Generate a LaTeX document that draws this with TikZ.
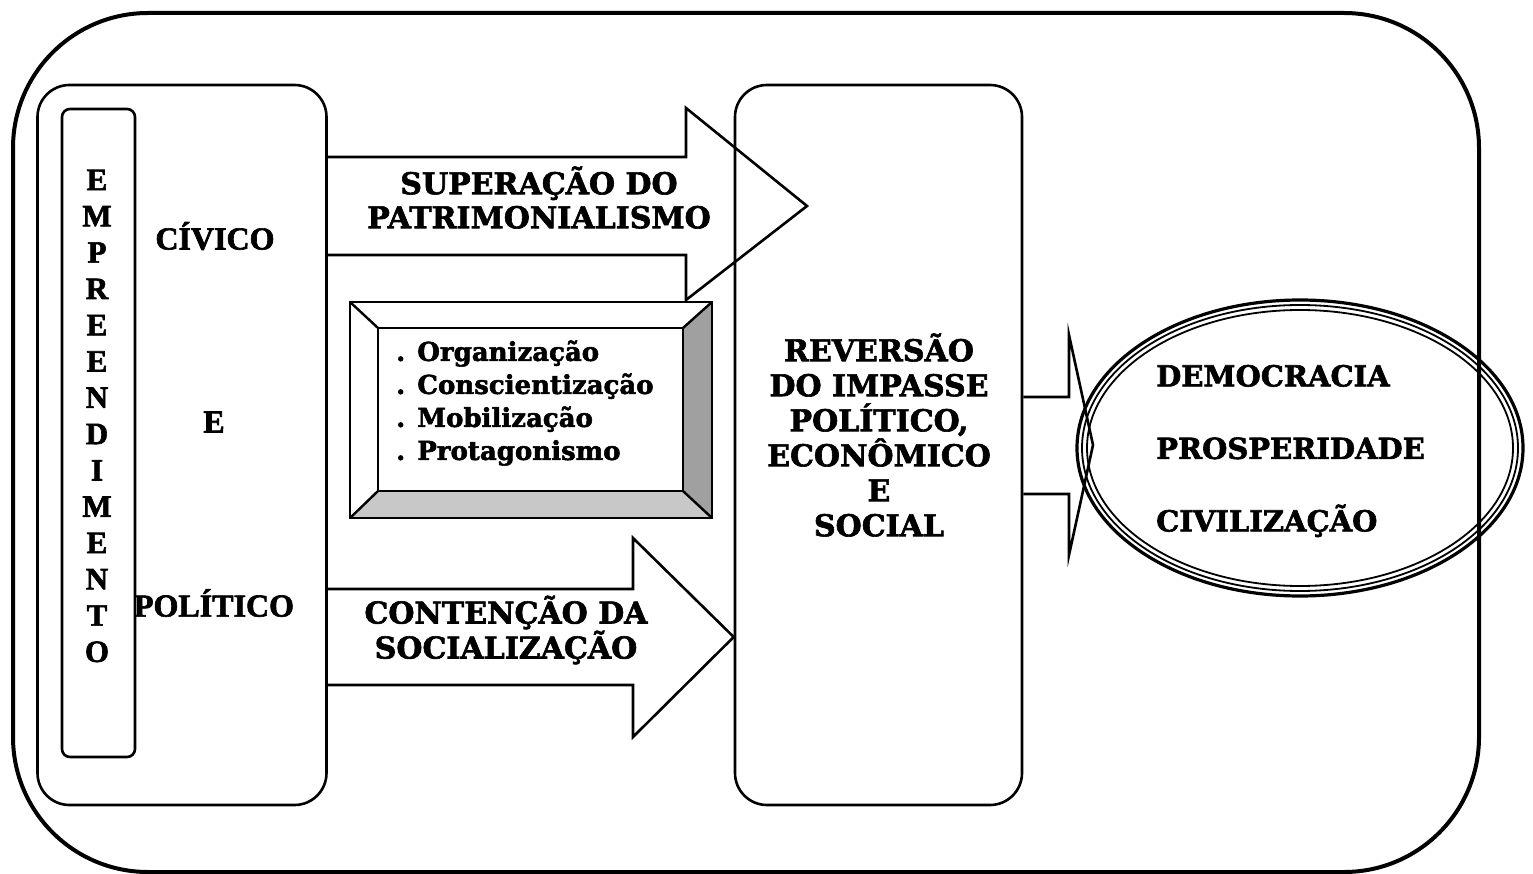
\documentclass[tikz,border=0pt]{standalone}
\usepackage{fontspec}
\setmainfont{Liberation Serif}
\newfontfamily\tmsb{Liberation Serif Bold}[FakeBold=2]
\newfontfamily\bkb{DejaVu Serif Bold}[FakeBold=2]
\usetikzlibrary{calc,shapes.geometric}
\begin{document}
\begin{tikzpicture}[x=1pt,y=-1pt,
  framebox/.style={draw, line width=4pt, rounded corners=135pt, inner sep=0pt},
  roundbox/.style={draw, line width=2.6pt, rounded corners=32pt, inner sep=0pt},
  blockarrow/.style={draw, line width=2.6pt, line join=miter},
  bevelline/.style={draw, line width=2.4pt},
  tms/.style={font=\tmsb\fontsize{32}{36}\selectfont},
  bks/.style={font=\bkb\fontsize{30}{34}\selectfont, align=center},
]
\useasboundingbox (0,0) rectangle (1533,874);

% outer frame
\node[framebox, minimum width=1466pt, minimum height=859pt] (frame) at (746,442.5) {};

% left boxes
\node[roundbox, minimum width=289pt, minimum height=720pt] (civ) at (182,445) {};
\node[draw, line width=2.6pt, rounded corners=8pt, inner sep=0pt, minimum width=73pt, minimum height=648pt] (emp) at (98.5,433) {};
\node[font=\tmsb\fontsize{31}{36.3}\selectfont, align=center, inner sep=0pt] (emptext) at (97,416)
  {E\\M\\P\\R\\E\\E\\N\\D\\I\\M\\E\\N\\T\\O};
\node[tms] (civico) at (215,236) {CÍVICO};
\node[tms] (e) at (214,422) {E};
\node[tms] (politico) at (214,603) {POLÍTICO};

% central box
\node[roundbox, minimum width=287pt, minimum height=720pt] (rev) at (878.5,445) {};
\node[bks, font=\bkb\fontsize{30}{35}\selectfont] (revtext) at (879,435)
  {REVERSÃO\\DO IMPASSE\\POLÍTICO,\\ECONÔMICO\\E\\SOCIAL};

% goal ellipse
\node[ellipse, draw, line width=3.2pt, inner sep=0pt, minimum width=446pt, minimum height=296pt] (goal) at (1300,448) {};
\draw[line width=1.8pt] (goal.center) ellipse [x radius=218, y radius=143];
\draw[line width=1.8pt] (goal.center) ellipse [x radius=213, y radius=138];

% block arrows
\draw[blockarrow] (civ.east |- 0,157) -- (686,157) -- (686,108) -- (807,206)
  -- (686,300) -- (686,255) -- (civ.east |- 0,255);
\node[bks] (suptext) at (539,197.5) {SUPERAÇÃO DO\\PATRIMONIALISMO};

\draw[blockarrow] (civ.east |- 0,589) -- (633,589) -- (633,538) -- (rev.west |- 0,637)
  -- (633,737) -- (633,685) -- (civ.east |- 0,685);
\node[bks, font=\bkb\fontsize{30}{35}\selectfont] (context) at (506,630) {CONTENÇÃO DA\\SOCIALIZAÇÃO};

\draw[blockarrow] (rev.east |- 0,397) -- (1069,397) -- (1069,335) -- (1093,445)
  -- (1069,555) -- (1069,494) -- (rev.east |- 0,494);

\node[font=\bkb\fontsize{29}{72.5}\selectfont, align=left, anchor=west, inner sep=0pt] (goaltext) at (1156,451)
  {DEMOCRACIA\\PROSPERIDADE\\CIVILIZAÇÃO};

% bevel box
\node[minimum width=362pt, minimum height=216pt, inner sep=0pt] (bev) at (531,410) {};
\node[minimum width=305pt, minimum height=163pt, inner sep=0pt] (bin) at (530.5,409.5) {};
\fill[fill={rgb,255:red,160;green,160;blue,160}] (bev.north east) -- (bin.north east) -- (bin.south east) -- (bev.south east) -- cycle;
\fill[fill={rgb,255:red,200;green,200;blue,200}] (bev.south west) -- (bin.south west) -- (bin.south east) -- (bev.south east) -- cycle;
\draw[bevelline] (bev.north west) rectangle (bev.south east);
\draw[bevelline] (bin.north west) rectangle (bin.south east);
\draw[bevelline] (bev.north west) -- (bin.north west);
\draw[bevelline] (bev.north east) -- (bin.north east);
\draw[bevelline] (bev.south west) -- (bin.south west);
\draw[bevelline] (bev.south east) -- (bin.south east);
\node[font=\bkb\fontsize{26}{33}\selectfont, align=left, anchor=west, inner sep=0pt] (bevtext) at (396,403)
  {. Organização\\. Conscientização\\. Mobilização\\. Protagonismo};
\end{tikzpicture}
\end{document}
